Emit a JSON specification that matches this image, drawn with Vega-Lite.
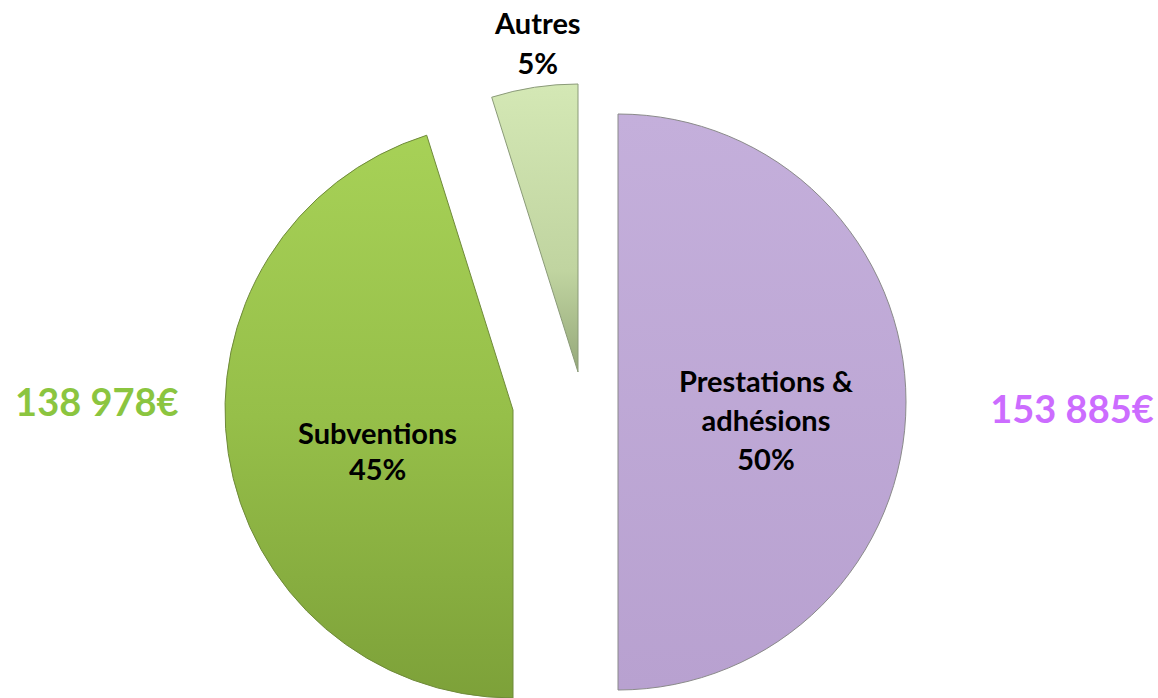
{
  "$schema": "https://vega.github.io/schema/vega-lite/v6.json",
  "width": 1158,
  "height": 698,
  "autosize": {"type": "none"},
  "padding": 0,
  "background": "white",
  "config": {"view": {"stroke": null}, "text": {"font": "Lato"}},
  "data": {"values": [
    {"cat": "Prestations & adhésions", "value": 153885, "ord": 1, "label": "Prestations &\nadhésions\n50%", "amount": "153 885€"},
    {"cat": "Subventions", "value": 138978, "ord": 2, "label": "Subventions\n45%", "amount": "138 978€"},
    {"cat": "Autres", "value": 14907, "ord": 3, "label": "Autres\n5%", "amount": ""}
  ]},
  "encoding": {
    "theta": {"field": "value", "type": "quantitative", "stack": true},
    "order": {"field": "ord", "type": "quantitative"}
  },
  "layer": [
    {
      "mark": {"type": "arc", "radius": 288, "xOffset": 39, "yOffset": 53, "stroke": "#8a8a8a", "strokeWidth": 1,
        "fill": {"gradient": "linear", "x1": 0, "y1": 0, "x2": 0, "y2": 1, "stops": [{"offset": 0, "color": "#C4AFDB"}, {"offset": 1, "color": "#B8A1D0"}]}},
      "encoding": {"opacity": {"condition": {"test": "datum.ord === 1", "value": 1}, "value": 0}}
    },
    {
      "mark": {"type": "arc", "radius": 288, "xOffset": -66, "yOffset": 61, "stroke": "#6f8a3a", "strokeWidth": 1,
        "fill": {"gradient": "linear", "x1": 0, "y1": 0, "x2": 0, "y2": 1, "stops": [{"offset": 0, "color": "#A7D157"}, {"offset": 0.5, "color": "#96BF49"}, {"offset": 1, "color": "#7DA139"}]}},
      "encoding": {"opacity": {"condition": {"test": "datum.ord === 2", "value": 1}, "value": 0}}
    },
    {
      "mark": {"type": "arc", "radius": 288, "xOffset": -1, "yOffset": 23, "stroke": "#8a9a78", "strokeWidth": 1,
        "fill": {"gradient": "linear", "x1": 0, "y1": 0, "x2": 0, "y2": 1, "stops": [{"offset": 0, "color": "#D4E8B5"}, {"offset": 0.65, "color": "#C0D4A0"}, {"offset": 1, "color": "#95A87A"}]}},
      "encoding": {"opacity": {"condition": {"test": "datum.ord === 3", "value": 1}, "value": 0}}
    },
    {
      "mark": {"type": "text", "radius": 148, "xOffset": 39, "yOffset": 53, "dy": -19, "fontSize": 29, "fontWeight": "bold", "lineBreak": "\n", "lineHeight": 39, "color": "#000000"},
      "encoding": {"text": {"field": "label"}, "opacity": {"condition": {"test": "datum.ord === 1", "value": 1}, "value": 0}}
    },
    {
      "mark": {"type": "text", "radius": 137, "xOffset": -66, "yOffset": 61, "dy": 4, "fontSize": 29, "fontWeight": "bold", "lineBreak": "\n", "lineHeight": 36, "color": "#000000"},
      "encoding": {"text": {"field": "label"}, "opacity": {"condition": {"test": "datum.ord === 2", "value": 1}, "value": 0}}
    },
    {
      "mark": {"type": "text", "radius": 331, "xOffset": -1, "yOffset": 23, "dx": 10, "dy": -20, "fontSize": 29, "fontWeight": "bold", "lineBreak": "\n", "lineHeight": 40, "color": "#000000"},
      "encoding": {"text": {"field": "label"}, "opacity": {"condition": {"test": "datum.ord === 3", "value": 1}, "value": 0}}
    },
    {
      "mark": {"type": "text", "radius": 454, "xOffset": 39, "yOffset": 53, "dy": 10, "fontSize": 38, "fontWeight": "bold", "color": "#CC6CFF"},
      "encoding": {"text": {"field": "amount"}, "opacity": {"condition": {"test": "datum.ord === 1", "value": 1}, "value": 0}}
    },
    {
      "mark": {"type": "text", "radius": 421, "xOffset": -66, "yOffset": 61, "dy": -69, "fontSize": 38, "fontWeight": "bold", "color": "#8BC53F"},
      "encoding": {"text": {"field": "amount"}, "opacity": {"condition": {"test": "datum.ord === 2", "value": 1}, "value": 0}}
    }
  ]
}
